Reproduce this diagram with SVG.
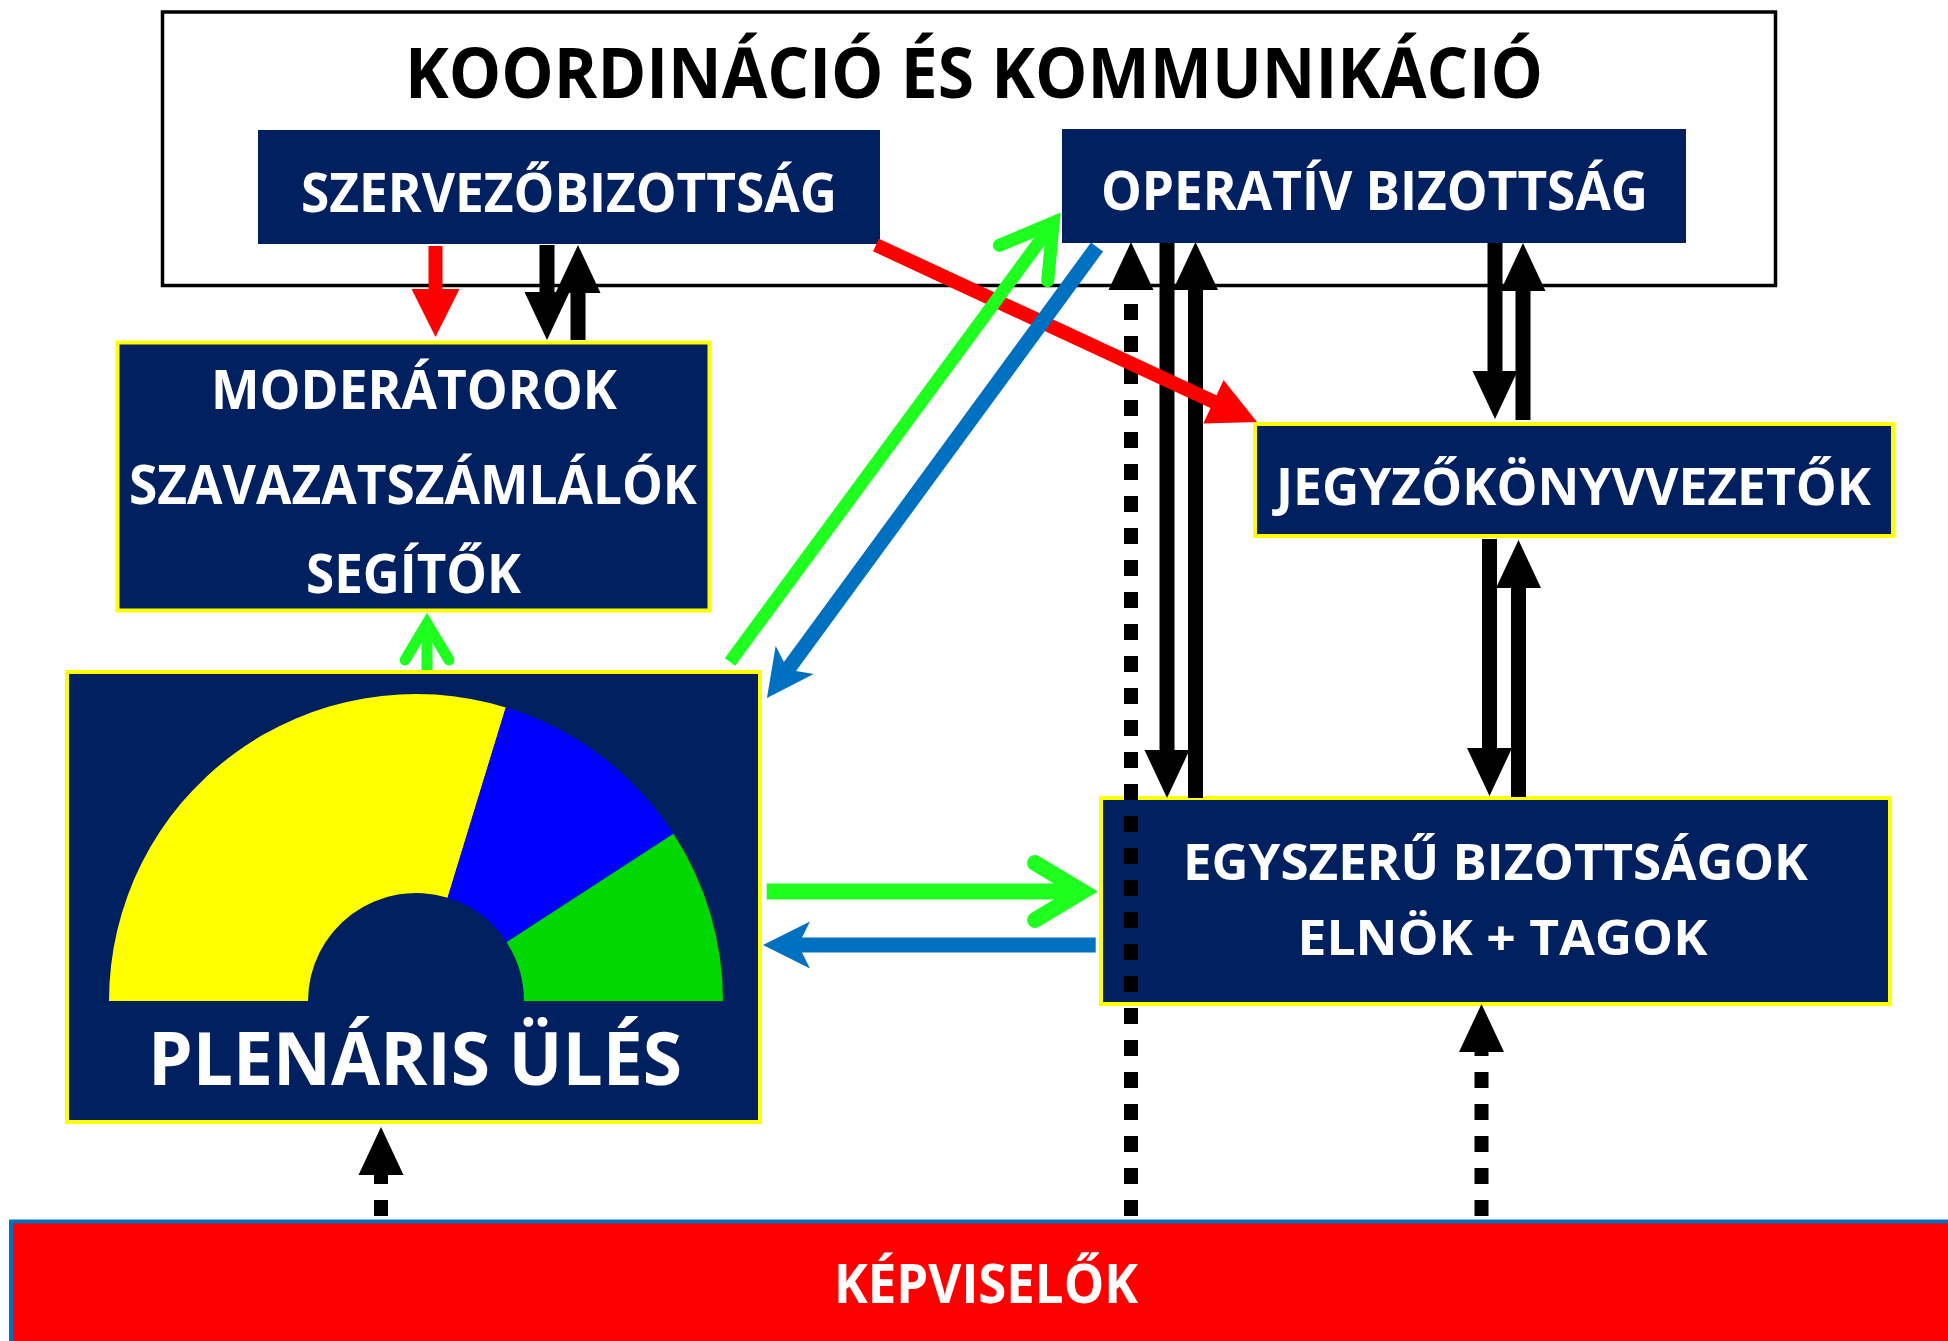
<svg xmlns="http://www.w3.org/2000/svg" width="1948" height="1341" viewBox="0 0 1948 1341">
<style>
.box{fill:#002060;}
.yb{fill:#002060;stroke:#FFFF00;stroke-width:4;}
.wt{fill:#FFFFFF;font-family:"Open Sans","Liberation Sans",sans-serif;font-weight:700;text-anchor:middle;}
.bl{stroke:#000;stroke-width:15;fill:none;}
.dot{stroke:#000;stroke-width:14;fill:none;stroke-dasharray:16 16;}
.rd{stroke:#FF0000;stroke-width:14;fill:none;}
.gr{stroke:#1FFF1F;fill:none;}
.bu{stroke:#0070C0;stroke-width:15;fill:none;}
</style>
<defs>
<marker id="hb" markerUnits="userSpaceOnUse" orient="auto" refX="0" refY="0" markerWidth="1" markerHeight="1" overflow="visible"><path d="M-1,-22.5 L47,0 L-1,22.5 Z" fill="#000"/></marker>
<marker id="hr" markerUnits="userSpaceOnUse" orient="auto" refX="0" refY="0" markerWidth="1" markerHeight="1" overflow="visible"><path d="M-1,-24 L47,0 L-1,24 Z" fill="#FF0000"/></marker>
<marker id="gL" markerUnits="userSpaceOnUse" orient="auto" refX="0" refY="0" markerWidth="1" markerHeight="1" overflow="visible"><path d="M-47.4,-28.5 L0,0 L-47.4,28.5" fill="none" stroke="#1FFF1F" stroke-width="16" stroke-linecap="round" stroke-linejoin="miter"/></marker>
<marker id="gM" markerUnits="userSpaceOnUse" orient="auto" refX="0" refY="0" markerWidth="1" markerHeight="1" overflow="visible"><path d="M-50,-30 L0,0 L-50,30" fill="none" stroke="#1FFF1F" stroke-width="13" stroke-linecap="round" stroke-linejoin="miter"/></marker>
<marker id="gS" markerUnits="userSpaceOnUse" orient="auto" refX="0" refY="0" markerWidth="1" markerHeight="1" overflow="visible"><path d="M-36.6,-22 L0,0 L-36.6,22" fill="none" stroke="#1FFF1F" stroke-width="11" stroke-linecap="round" stroke-linejoin="miter"/></marker>
<marker id="hbu" markerUnits="userSpaceOnUse" orient="auto" refX="0" refY="0" markerWidth="1" markerHeight="1" overflow="visible"><path d="M38,0 L-9,-23.6 L-1,-7.5 L-1,7.5 L-9,23.6 Z" fill="#0070C0"/></marker>
</defs>
<rect width="1948" height="1341" fill="#FFFFFF"/>

<g id="koordinacio">
<rect x="162.5" y="12" width="1613" height="273.5" fill="#FFFFFF" stroke="#000" stroke-width="3.5"/>
<text x="974" y="98" font-family="'Open Sans','Liberation Sans',sans-serif" font-weight="700" font-size="70" text-anchor="middle" fill="#000" textLength="1138" lengthAdjust="spacingAndGlyphs">KOORDINÁCIÓ ÉS KOMMUNIKÁCIÓ</text>
</g>

<g id="szervezobizottsag">
<rect class="box" x="258" y="130" width="622" height="114"/>
<text class="wt" x="569" y="212" font-size="54" textLength="536" lengthAdjust="spacingAndGlyphs">SZERVEZŐBIZOTTSÁG</text>
</g>

<g id="operativ">
<rect class="box" x="1062" y="129" width="624" height="114"/>
<text class="wt" x="1374.5" y="210" font-size="53" textLength="547" lengthAdjust="spacingAndGlyphs">OPERATÍV BIZOTTSÁG</text>
</g>

<g id="moderatorok">
<rect class="yb" x="117.5" y="342.5" width="592" height="268"/>
<text class="wt" x="414" y="409" font-size="53" textLength="406" lengthAdjust="spacingAndGlyphs">MODERÁTOROK</text>
<text class="wt" x="413" y="504" font-size="53" textLength="568" lengthAdjust="spacingAndGlyphs">SZAVAZATSZÁMLÁLÓK</text>
<text class="wt" x="413.5" y="593" font-size="53" textLength="215" lengthAdjust="spacingAndGlyphs">SEGÍTŐK</text>
</g>

<g id="jegyzokonyvvezetok">
<rect class="yb" x="1255" y="424" width="638" height="112"/>
<text class="wt" x="1573.5" y="505" font-size="52" textLength="595" lengthAdjust="spacingAndGlyphs">JEGYZŐKÖNYVVEZETŐK</text>
</g>

<g id="egyszeru">
<rect class="yb" x="1101" y="798" width="789" height="206"/>
<text class="wt" x="1495.5" y="879.5" font-size="50" textLength="625" lengthAdjust="spacingAndGlyphs">EGYSZERŰ BIZOTTSÁGOK</text>
<text class="wt" x="1502.5" y="955" font-size="49" textLength="410" lengthAdjust="spacingAndGlyphs">ELNÖK + TAGOK</text>
</g>

<g id="plenaris">
<rect class="yb" x="67" y="672" width="693" height="450"/>
<path d="M109,1001 A307,307 0 0 1 505.8,707.4 L447.6,897.7 A108,108 0 0 0 308,1001 Z" fill="#FFFF00"/>
<path d="M505.8,707.4 A307,307 0 0 1 673.5,833.8 L506.6,942.2 A108,108 0 0 0 447.6,897.7 Z" fill="#0000FF"/>
<path d="M673.5,833.8 A307,307 0 0 1 723,1001 L524,1001 A108,108 0 0 0 506.6,942.2 Z" fill="#00D800"/>
<text class="wt" x="415" y="1085" font-size="74" textLength="534" lengthAdjust="spacingAndGlyphs">PLENÁRIS ÜLÉS</text>
</g>

<g id="kepviselok">
<rect x="11" y="1221.5" width="1945" height="130" fill="#FF0000" stroke="#0070C0" stroke-width="4"/>
<text class="wt" x="986" y="1303" font-size="53" textLength="304" lengthAdjust="spacingAndGlyphs">KÉPVISELŐK</text>
</g>

<g id="connectors">
<line class="bl" x1="547" y1="245" x2="547" y2="293" marker-end="url(#hb)"/>
<line class="bl" x1="578" y1="340" x2="578" y2="292" marker-end="url(#hb)"/>
<line class="bl" x1="1167" y1="243" x2="1167" y2="751" marker-end="url(#hb)"/>
<line class="bl" x1="1195.5" y1="798" x2="1195.5" y2="289" marker-end="url(#hb)"/>
<line class="bl" x1="1495" y1="243" x2="1495" y2="372" marker-end="url(#hb)"/>
<line class="bl" x1="1523" y1="420" x2="1523" y2="290" marker-end="url(#hb)"/>
<line class="bl" x1="1489.5" y1="539" x2="1489.5" y2="749" marker-end="url(#hb)"/>
<line class="bl" x1="1518.5" y1="797" x2="1518.5" y2="587" marker-end="url(#hb)"/>
<line class="dot" x1="1131" y1="1216" x2="1131" y2="289" marker-end="url(#hb)"/>
<line class="dot" x1="1481.5" y1="1216" x2="1481.5" y2="1051" marker-end="url(#hb)"/>
<line class="dot" x1="381" y1="1216" x2="381" y2="1174" marker-end="url(#hb)"/>
<line class="rd" x1="435.5" y1="246" x2="435.5" y2="290" marker-end="url(#hr)"/>
<line class="rd" x1="876" y1="245" x2="1214.4" y2="402.2" marker-end="url(#hr)"/>
<line class="gr" stroke-width="11" x1="427" y1="670" x2="427" y2="623.4" marker-end="url(#gS)"/>
<line class="gr" stroke-width="13" x1="730" y1="662" x2="1053.2" y2="222.8" marker-end="url(#gM)"/>
<line class="gr" stroke-width="16" x1="766.7" y1="891.5" x2="1082.4" y2="891.5" marker-end="url(#gL)"/>
<line class="bu" x1="1097" y1="247" x2="789.4" y2="667.3" marker-end="url(#hbu)"/>
<line class="bu" x1="1095.7" y1="945" x2="801" y2="945" marker-end="url(#hbu)"/>
</g>
</svg>
